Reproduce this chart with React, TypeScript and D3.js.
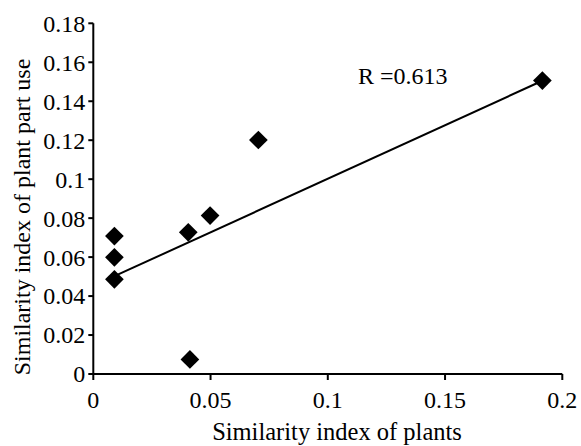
import React from "react";
import * as d3 from "d3";

const plantSim = [0.009, 0.009, 0.009, 0.0405, 0.0412, 0.0498, 0.0704, 0.1915];
const partSim = [0.0708, 0.0599, 0.0486, 0.0727, 0.0075, 0.0813, 0.1201, 0.1506];
const trendX = [0.009, 0.1915];
const trendY = [0.0502, 0.1505];
const xTicks = [0, 0.05, 0.1, 0.15, 0.2];
const yTicks = [0, 0.02, 0.04, 0.06, 0.08, 0.1, 0.12, 0.14, 0.16, 0.18];
const rLabel = "R =0.613";
const xTitle = "Similarity index of plants";
const yTitle = "Similarity index of plant part use";

const W = 581;
const H = 446;
const FONT = "'Liberation Serif', 'Times New Roman', serif";

export default function App() {
  const x = d3.scaleLinear().domain([0, 0.2]).range([93.3, 562.3]);
  const y = d3.scaleLinear().domain([0, 0.18]).range([374, 23.3]);
  const fmt = d3.format("~g");
  const sym = d3.symbol(d3.symbolSquare, 175)();
  const line = d3
    .line<number>()
    .x((d) => x(d))
    .y((_, i) => y(trendY[i]));

  return (
    <svg
      width={W}
      height={H}
      style={{ position: "absolute", left: 0, top: 0, background: "#fff" }}
      fontFamily={FONT}
    >
      <rect width={W} height={H} fill="#fff" />
      {/* y axis */}
      <line x1={x(0)} x2={x(0)} y1={y(0)} y2={y(0.18)} stroke="#000" strokeWidth={2} />
      {yTicks.map((t) => (
        <g key={"y" + t}>
          <line x1={x(0) - 5} x2={x(0)} y1={y(t)} y2={y(t)} stroke="#000" strokeWidth={2} />
          <text x={x(0) - 8} y={y(t)} dy="0.35em" textAnchor="end" fontSize={24} fill="#000">
            {fmt(t)}
          </text>
        </g>
      ))}
      {/* x axis */}
      <line x1={x(0)} x2={x(0.2)} y1={y(0)} y2={y(0)} stroke="#000" strokeWidth={2} />
      {xTicks.map((t) => (
        <g key={"x" + t}>
          <line x1={x(t)} x2={x(t)} y1={y(0)} y2={y(0) + 6} stroke="#000" strokeWidth={2} />
          <text x={x(t)} y={408} textAnchor="middle" fontSize={24} fill="#000">
            {fmt(t)}
          </text>
        </g>
      ))}
      <text x={337} y={440} textAnchor="middle" fontSize={24.5} fill="#000">
        {xTitle}
      </text>
      <text
        transform={`translate(30,217) rotate(-90)`}
        textAnchor="middle"
        fontSize={24}
        fill="#000"
      >
        {yTitle}
      </text>
      {/* trend line */}
      <path d={line(trendX) || ""} fill="none" stroke="#000" strokeWidth={2} />
      {/* points */}
      {plantSim.map((v, i) => (
        <path
          key={"p" + i}
          d={sym || ""}
          transform={`translate(${x(v)},${y(partSim[i])}) rotate(45)`}
          fill="#000"
        />
      ))}
      <text x={358} y={84} fontSize={24} fill="#000">
        {rLabel}
      </text>
    </svg>
  );
}
